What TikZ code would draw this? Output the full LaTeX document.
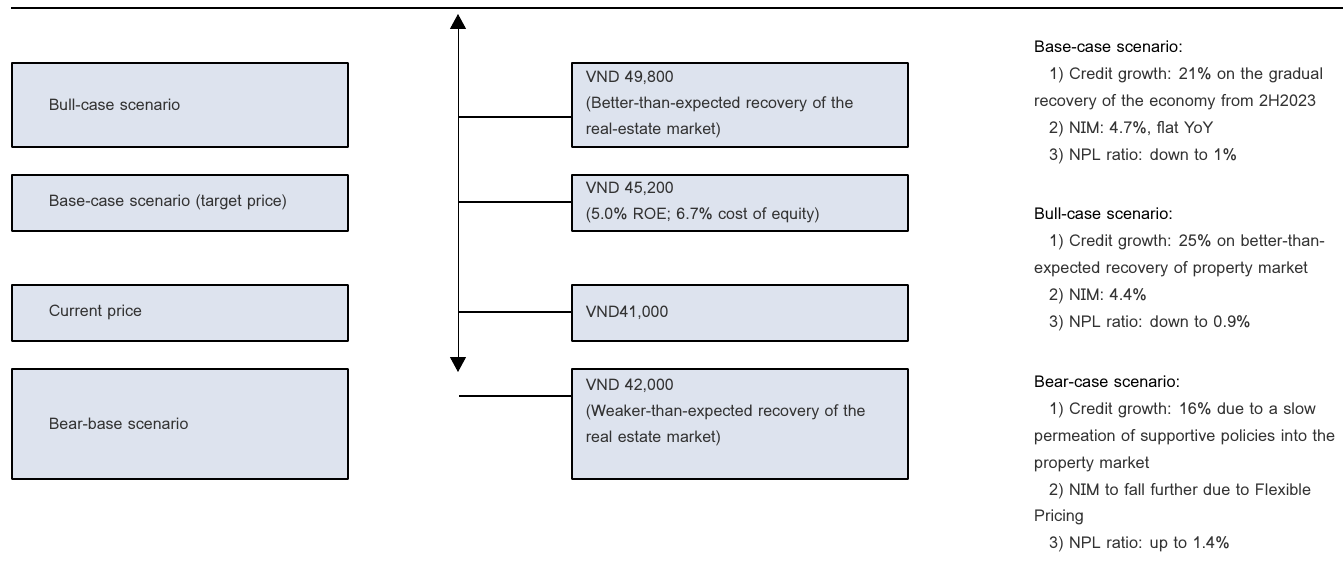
\documentclass[tikz,border=0pt]{standalone}
\usepackage{fontspec}
\setmainfont{Loma}
\usetikzlibrary{arrows.meta}
\definecolor{boxfill}{RGB}{221,227,238}
\definecolor{txtgray}{RGB}{51,51,51}
\tikzset{
  scen/.style={draw, line width=1.6pt, fill=boxfill, anchor=north west,
    minimum width=336pt, text width=262pt, inner xsep=37pt, align=left, text=txtgray},
  price/.style={draw, line width=1.6pt, fill=boxfill, anchor=north west,
    minimum width=336pt, text width=308pt, inner xsep=14pt, align=left, text=txtgray},
  note/.style={anchor=north west, inner sep=0pt, align=left, text=txtgray,
    font=\fontsize{16.3}{26.8}\selectfont},
  head/.style={text=black}
}
\newcommand{\ind}{\hspace*{15pt}}
\begin{document}
\begin{tikzpicture}[x=1pt, y=-1pt, font=\fontsize{16}{26}\selectfont, line join=round]
\useasboundingbox (0,0) rectangle (1343,578);
\draw[line width=2pt] (11,8) -- (1343,8);

% scenarios
\node[scen, minimum height=84pt] (bull) at (11,62) {Bull-case scenario};
\node[scen, minimum height=56pt] (base) at (11,174) {Base-case scenario (target price)};
\node[scen, minimum height=56pt] (curr) at (11,284) {Current price};
\node[scen, minimum height=110pt] (bear) at (11,368) {Bear-base scenario};

% prices
\node[price, minimum height=84pt] (pbull) at (571,62) {VND 49,800\\(Better-than-expected recovery of the\\real-estate market)};
\node[price, minimum height=56pt] (pbase) at (571,174) {VND 45,200\\(5.0\% ROE; 6.7\% cost of equity)};
\node[price, minimum height=56pt] (pcurr) at (571,284) {VND41,000};
\node[price, minimum height=110pt] (pbear) at (571,368) {VND 42,000\\(Weaker-than-expected recovery of the\\real estate market)\\\mbox{}};

% price axis
\coordinate (up) at (458,14);
\coordinate (down) at (458,372);
\draw[line width=1pt, {Triangle[width=16pt,length=15pt]}-{Triangle[width=16pt,length=15pt]}] (up) -- (down);
\coordinate (s1) at (458,117);
\coordinate (s2) at (458,202);
\coordinate (s3) at (458,312);
\coordinate (s4) at (459,396);
\draw[line width=1.3pt] (s1) -- (s1 -| pbull.west);
\draw[line width=1.3pt] (s2) -- (s2 -| pbase.west);
\draw[line width=1.3pt] (s3) -- (s3 -| pcurr.west);
\draw[line width=1.3pt] (s4) -- (s4 -| pbear.west);

% assumptions
\node[note] (nbase) at (1034,41) {{\color{black}Base-case scenario:}\\
  \ind 1) Credit growth: 21\% on the gradual\\
  recovery of the economy from 2H2023\\
  \ind 2) NIM: 4.7\%, flat YoY\\
  \ind 3) NPL ratio: down to 1\%};
\node[note] (nbull) at (1034,208) {{\color{black}Bull-case scenario:}\\
  \ind 1) Credit growth: 25\% on better-than-\\
  expected recovery of property market\\
  \ind 2) NIM: 4.4\%\\
  \ind 3) NPL ratio: down to 0.9\%};
\node[note] (nbear) at (1034,376) {{\color{black}Bear-case scenario:}\\
  \ind 1) Credit growth: 16\% due to a slow\\
  permeation of supportive policies into the\\
  property market\\
  \ind 2) NIM to fall further due to Flexible\\
  Pricing\\
  \ind 3) NPL ratio: up to 1.4\%};
\end{tikzpicture}
\end{document}
